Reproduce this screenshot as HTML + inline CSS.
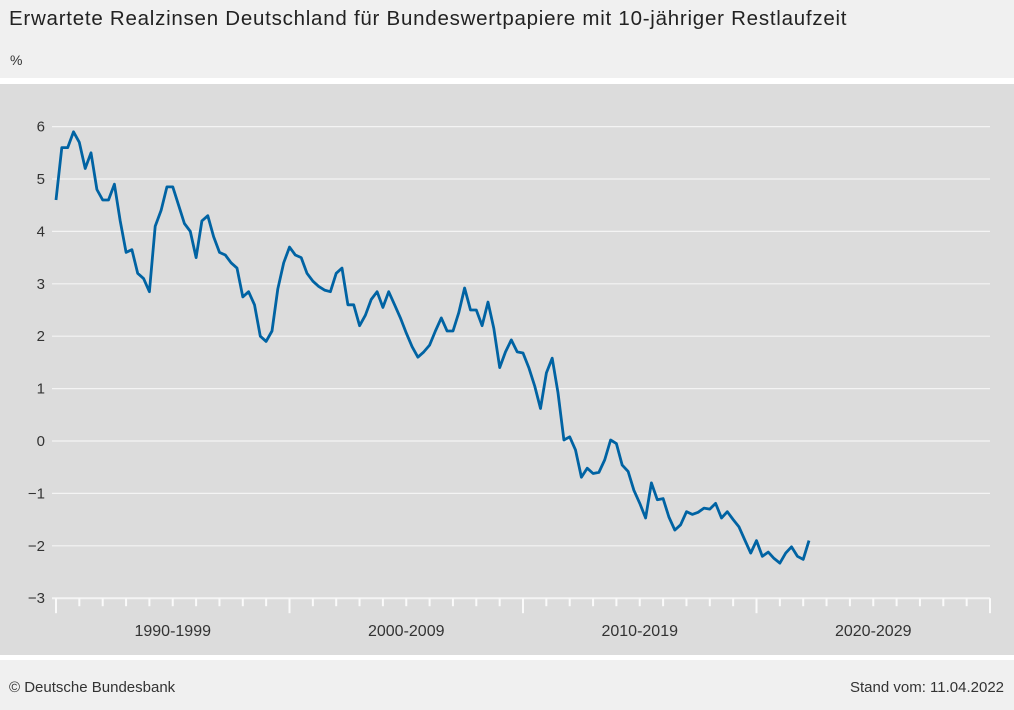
<!DOCTYPE html>
<html><head><meta charset="utf-8"><style>
body{margin:0;width:1014px;height:710px;background:#fff;font-family:"Liberation Sans",sans-serif;overflow:hidden;position:relative}
#top{position:absolute;left:0;top:0;width:1014px;height:78px;background:#f0f0f0}
#title{position:absolute;left:9px;top:7px;font-size:20.5px;letter-spacing:0.75px;color:#222;white-space:nowrap}
#unit{position:absolute;left:10px;top:52px;font-size:14px;color:#333}
#foot{position:absolute;left:0;top:660px;width:1014px;height:50px;background:#f0f0f0;font-size:15px;color:#333}
svg{position:absolute;left:0;top:84px}
</style></head><body>
<div id="top">
<div id="title">Erwartete Realzinsen Deutschland für Bundeswertpapiere mit 10-jähriger Restlaufzeit</div>
<div id="unit">%</div>
</div>
<svg id="chart" width="1014" height="571"><rect width="1014" height="571" fill="#dcdcdc"/></svg>
<div id="foot">
<span style="position:absolute;left:9px;top:19px">© Deutsche Bundesbank</span>
<span style="position:absolute;right:10px;top:19px">Stand vom: 11.04.2022</span>
</div>
<script>
const yTicks=[6,5,4,3,2,1,0,-1,-2,-3];
const decadeLabels=["1990-1999","2000-2009","2010-2019","2020-2029"];
const startYear=1990;
const values=[4.6,5.6,5.6,5.9,5.7,5.2,5.5,4.8,4.6,4.6,4.9,4.2,3.6,3.65,3.2,3.1,2.85,4.1,4.4,4.85,4.85,4.5,4.15,4.0,3.5,4.2,4.3,3.9,3.6,3.55,3.4,3.3,2.75,2.85,2.6,2.0,1.9,2.1,2.9,3.4,
3.7,3.55,3.5,3.2,3.05,2.95,2.88,2.85,3.2,3.3,2.6,2.6,2.2,2.4,2.7,2.85,2.55,2.85,2.6,2.35,2.06,1.8,1.6,1.7,1.83,2.1,2.35,2.1,2.1,2.45,2.92,2.5,2.5,2.2,2.65,2.15,1.4,1.7,1.93,1.7,
1.68,1.4,1.05,0.62,1.3,1.58,0.92,0.02,0.08,-0.17,-0.69,-0.52,-0.62,-0.6,-0.36,0.02,-0.05,-0.46,-0.58,-0.94,-1.19,-1.47,-0.8,-1.12,-1.1,-1.45,-1.7,-1.6,-1.35,-1.4,-1.36,-1.28,-1.3,-1.19,-1.47,-1.35,-1.5,-1.64,-1.89,-2.14,
-1.9,-2.2,-2.12,-2.24,-2.33,-2.14,-2.02,-2.2,-2.26,-1.9];
const svg=document.getElementById('chart');
const NS='http://www.w3.org/2000/svg';
const x=yr=>56+(yr-1990)*23.35;
const y=v=>357-v*52.4;
function mk(t,a){const e=document.createElementNS(NS,t);for(const k in a)e.setAttribute(k,a[k]);svg.appendChild(e);return e;}
yTicks.forEach(v=>{
 const g=mk('line',{x1:52,x2:990,y1:y(v),y2:y(v),stroke:'#f4f4f4','stroke-width':v===-3?2:1.2});
 
 
 const t=mk('text',{x:45,y:y(v)+5,'text-anchor':'end','font-size':15,fill:'#333','font-family':'Liberation Sans, sans-serif'});
 t.textContent=v<0?'\u2212'+(-v):String(v);
 
 
});
for(let yr=1990;yr<=2030;yr++){
 const maj=(yr%10===0);
 const tk=mk('line',{x1:x(yr),x2:x(yr),y1:y(-3),y2:y(-3)+(maj?15:8),stroke:'#fafafa','stroke-width':2});
 
 
}
decadeLabels.forEach((l,i)=>{
 const t=mk('text',{x:x(1995+10*i),y:y(-3)+38,'text-anchor':'middle','font-size':16,fill:'#333','font-family':'Liberation Sans, sans-serif'});
 t.textContent=l;
 
 
});
const pts=values.map((v,i)=>x(startYear+i*0.25).toFixed(1)+','+y(v).toFixed(1)).join(' ');
const pl=mk('polyline',{points:pts,fill:'none',stroke:'#0063a3','stroke-width':2.8,'stroke-linejoin':'round'});


</script>
</body></html>
